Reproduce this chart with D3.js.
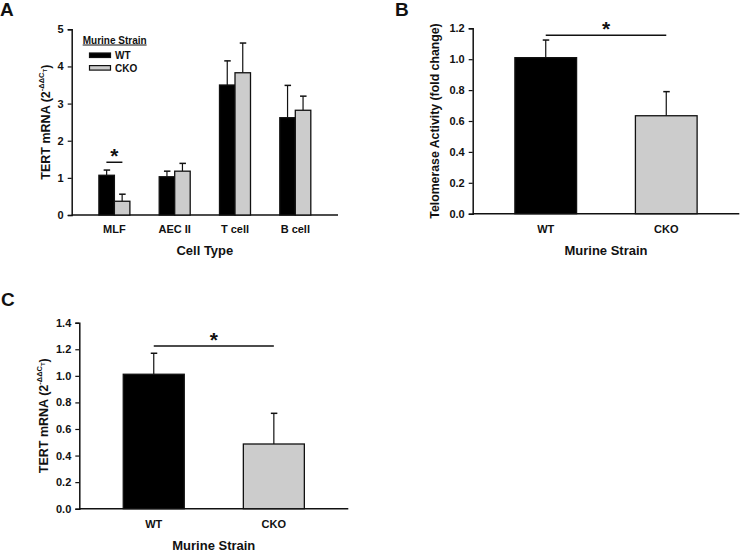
<!DOCTYPE html>
<html><head><meta charset="utf-8">
<script src="https://cdn.jsdelivr.net/npm/d3@7/dist/d3.min.js"></script>
<style>
body{margin:0;background:#fff;}
text{font-family:"Liberation Sans",Arial,sans-serif;font-weight:bold;fill:#111;}
</style></head><body>
<svg id="c" width="744" height="554"></svg>
<script>
// Panel A data
const cellTypes = ["MLF", "AEC II", "T cell", "B cell"];
const strains = ["WT", "CKO"];
const wtA = [1.07, 1.03, 3.50, 2.62];
const wtAErr = [0.14, 0.15, 0.65, 0.87];
const ckoA = [0.37, 1.18, 3.83, 2.82];
const ckoAErr = [0.19, 0.21, 0.80, 0.38];
const ticksA = [0, 1, 2, 3, 4, 5];
// Panel B data
const valuesB = [1.01, 0.634];
const errB = [0.114, 0.156];
const ticksB = [0, 0.2, 0.4, 0.6, 0.8, 1.0, 1.2];
// Panel C data
const valuesC = [1.012, 0.487];
const errC = [0.158, 0.231];
const ticksC = [0, 0.2, 0.4, 0.6, 0.8, 1.0, 1.2, 1.4];

const colors = {WT: "#000000", CKO: "#cccccc"};
const svg = d3.select("#c");

function yAxis(g, y, ticks, fmt) {
  const ax = d3.axisLeft(y).tickValues(ticks).tickFormat(fmt).tickSizeOuter(0).tickSize(4).tickPadding(4);
  g.call(ax);
  g.select(".domain").attr("stroke", "#111").attr("stroke-width", 1.5);
  g.selectAll(".tick line").attr("stroke", "#111").attr("stroke-width", 1.2);
  g.selectAll(".tick text").attr("font-size", 11).attr("font-family", "Liberation Sans, Arial").attr("font-weight", "bold").attr("fill", "#111");
}
function xLine(g, x0, x1, y0) {
  g.append("line").attr("x1", x0).attr("x2", x1).attr("y1", y0).attr("y2", y0)
    .attr("stroke", "#111").attr("stroke-width", 1.5);
}
function errBar(g, cx, yTop, yErr) {
  g.append("line").attr("x1", cx).attr("x2", cx).attr("y1", yTop).attr("y2", yErr).attr("stroke", "#111").attr("stroke-width", 1.2);
  g.append("line").attr("x1", cx - 3).attr("x2", cx + 3.5).attr("y1", yErr).attr("y2", yErr).attr("stroke", "#111").attr("stroke-width", 1.5);
}
function tertLabel(g, cx, cy) {
  const t = g.append("text").attr("transform", `translate(${cx},${cy}) rotate(-90)`)
    .attr("text-anchor", "middle").attr("font-size", 12.5);
  t.append("tspan").text("TERT mRNA (2");
  t.append("tspan").attr("font-size", 7.5).attr("dy", -6).text("-ΔΔC");
  t.append("tspan").attr("font-size", 6).attr("dy", 3).text("T");
  t.append("tspan").attr("dy", 3).text(")");
}
function sig(g, x1, x2, yLine) {
  g.append("line").attr("x1", x1).attr("x2", x2).attr("y1", yLine).attr("y2", yLine).attr("stroke", "#111").attr("stroke-width", 1.5);
  g.append("text").attr("x", (x1 + x2) / 2).attr("y", yLine + 1).attr("text-anchor", "middle").attr("font-size", 21).text("*");
}

// ---------- Panel A ----------
{
  const g = svg.append("g");
  const L = 71.7, R = 338, B = 215, T = 29.3;
  const y = d3.scaleLinear().domain([0, 5]).range([B, T]);
  const x = d3.scalePoint().domain(cellTypes).range([L, R]).padding(0.708);
  const bw = 15.5;
  xLine(g, L, R, B);
  const series = [{s: "WT", v: wtA, e: wtAErr, off: -bw}, {s: "CKO", v: ckoA, e: ckoAErr, off: 0}];
  series.forEach(S => {
    cellTypes.forEach((c, i) => {
      const x0 = x(c) + S.off;
      errBar(g, x0 + bw / 2, y(S.v[i]), y(S.v[i] + S.e[i]));
      g.append("rect").attr("x", x0).attr("y", y(S.v[i])).attr("width", bw).attr("height", y(0) - y(S.v[i]))
        .attr("fill", colors[S.s]).attr("stroke", "#111").attr("stroke-width", 1.3);
    });
  });
  yAxis(g.append("g").attr("transform", `translate(${L},0)`), y, ticksA, d3.format("d"));
  cellTypes.forEach(c => g.append("text").attr("x", x(c)).attr("y", B + 18).attr("text-anchor", "middle").attr("font-size", 11).text(c));
  g.append("text").attr("x", (L + R) / 2).attr("y", B + 40).attr("text-anchor", "middle").attr("font-size", 13).text("Cell Type");
  tertLabel(g, 49.5, (B + T) / 2);
  sig(g, x("MLF") - 8, x("MLF") + 8, y(1.42));
  // legend
  g.append("text").attr("x", 82.7).attr("y", 43.5).attr("font-size", 10).attr("text-decoration", "underline").text("Murine Strain");
  strains.forEach((s, i) => {
    g.append("rect").attr("x", 89.5).attr("y", 53 + i * 12.6).attr("width", 21).attr("height", 4.5)
      .attr("fill", colors[s]).attr("stroke", "#111").attr("stroke-width", 1.2);
    g.append("text").attr("x", 115).attr("y", 59 + i * 12.6).attr("font-size", 10).text(s);
  });
  g.append("text").attr("x", 0).attr("y", 16).attr("font-size", 19).text("A");
}

// ---------- Panel B ----------
{
  const g = svg.append("g");
  const L = 472.7, R = 739.3, B = 213.7, T = 28.3;
  const y = d3.scaleLinear().domain([0, 1.2]).range([B, T]);
  const x = d3.scalePoint().domain(strains).range([L, R]).padding(0.606);
  const bw = 61.7;
  xLine(g, L, R, B);
  strains.forEach((s, i) => {
    errBar(g, x(s), y(valuesB[i]), y(valuesB[i] + errB[i]));
    g.append("rect").attr("x", x(s) - bw / 2).attr("y", y(valuesB[i])).attr("width", bw).attr("height", y(0) - y(valuesB[i]))
      .attr("fill", colors[s]).attr("stroke", "#111").attr("stroke-width", 1.3);
  });
  yAxis(g.append("g").attr("transform", `translate(${L},0)`), y, ticksB, d3.format(".1f"));
  strains.forEach(s => g.append("text").attr("x", x(s)).attr("y", B + 19).attr("text-anchor", "middle").attr("font-size", 11).text(s));
  g.append("text").attr("x", (L + R) / 2).attr("y", B + 41).attr("text-anchor", "middle").attr("font-size", 13).text("Murine Strain");
  g.append("text").attr("transform", `translate(${L - 34},${(B + T) / 2}) rotate(-90)`).attr("text-anchor", "middle").attr("font-size", 12.3).text("Telomerase Activity (fold change)");
  sig(g, x("WT"), x("CKO"), 35.3);
  g.append("text").attr("x", 395).attr("y", 16).attr("font-size", 19).text("B");
}

// ---------- Panel C ----------
{
  const g = svg.append("g");
  const L = 79.3, R = 348.3, B = 508.7, T = 322.7;
  const y = d3.scaleLinear().domain([0, 1.4]).range([B, T]);
  const x = d3.scalePoint().domain(strains).range([L, R]).padding(0.62);
  const bw = 61;
  xLine(g, L, R, B);
  strains.forEach((s, i) => {
    errBar(g, x(s), y(valuesC[i]), y(valuesC[i] + errC[i]));
    g.append("rect").attr("x", x(s) - bw / 2).attr("y", y(valuesC[i])).attr("width", bw).attr("height", y(0) - y(valuesC[i]))
      .attr("fill", colors[s]).attr("stroke", "#111").attr("stroke-width", 1.3);
  });
  yAxis(g.append("g").attr("transform", `translate(${L},0)`), y, ticksC, d3.format(".1f"));
  strains.forEach(s => g.append("text").attr("x", x(s)).attr("y", B + 19).attr("text-anchor", "middle").attr("font-size", 11).text(s));
  g.append("text").attr("x", (L + R) / 2).attr("y", B + 41).attr("text-anchor", "middle").attr("font-size", 13).text("Murine Strain");
  tertLabel(g, 48, (B + T) / 2);
  sig(g, x("WT"), x("CKO"), 346);
  g.append("text").attr("x", 1).attr("y", 306).attr("font-size", 19).text("C");
}
</script></body></html>
